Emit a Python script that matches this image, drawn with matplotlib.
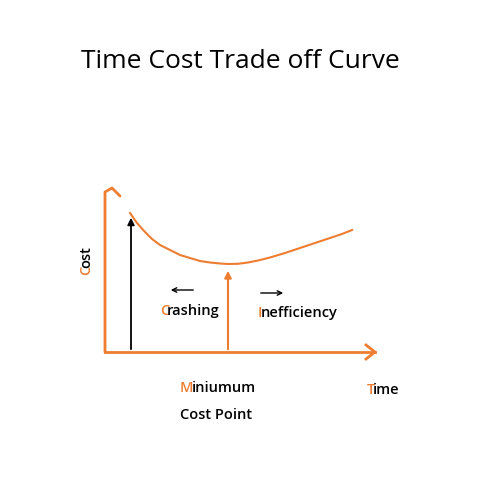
import matplotlib
matplotlib.use("Agg")
import matplotlib.pyplot as plt
from matplotlib.patches import FancyArrowPatch

ORANGE = "#ED7D31"
title = "Time Cost Trade off Curve"
curve_x = [130, 137, 145, 152, 160, 170, 180, 190, 200, 210, 220, 228, 238, 248, 258, 270, 285, 300, 315, 330, 342, 352]
curve_y = [213, 223, 232, 239, 245, 250, 255, 258, 261, 262.5, 263.5, 264, 263.8, 262.5, 260.5, 257.5, 253, 248, 243, 238, 234, 230]
labels = [("C", "rashing", 160, 311), ("I", "nefficiency", 258, 313),
          ("M", "iniumum", 180, 388), ("T", "ime", 367, 390)]

fig = plt.figure(figsize=(4.8, 4.8), dpi=100)
ax = fig.add_axes([0, 0, 1, 1])
ax.set_xlim(0, 480); ax.set_ylim(480, 0); ax.axis("off")
FAM = ["Open Sans", "DejaVu Sans"]

ax.text(240, 62, title, ha="center", va="center", fontsize=19, family=FAM)

ax.plot([105, 105, 112, 120], [352, 192, 188, 196], color=ORANGE, lw=2, solid_capstyle="round")
ax.plot([105, 375], [352, 352], color=ORANGE, lw=2)
ax.plot([366, 375, 366], [345, 352, 359], color=ORANGE, lw=2)

ax.plot(curve_x, curve_y, color=ORANGE, lw=1.5)

ax.add_patch(FancyArrowPatch((131, 352), (131, 215), arrowstyle="-|>", mutation_scale=10, color="black", lw=1.3))
ax.add_patch(FancyArrowPatch((228, 352), (228, 268), arrowstyle="-|>", mutation_scale=10, color=ORANGE, lw=1.5))
ax.add_patch(FancyArrowPatch((196, 290), (168, 290), arrowstyle="->", mutation_scale=8, color="black", lw=1))
ax.add_patch(FancyArrowPatch((258, 293), (286, 293), arrowstyle="->", mutation_scale=8, color="black", lw=1))

kw = dict(fontsize=10.5, fontweight="semibold", family=FAM)
for first, rest, x, y in labels:
    t = ax.text(x, y, first, color=ORANGE, va="center", **kw)
    ax.annotate(rest, xy=(1, 0.5), xycoords=t, xytext=(-1.5, 0), textcoords="offset points",
                va="center", color="black", **kw)
ax.text(180, 415, "Cost Point", va="center", **kw)

t = ax.text(86, 275, "C", color=ORANGE, rotation=90, ha="center", va="bottom", **kw)
ax.annotate("ost", xy=(0.5, 1), xycoords=t, xytext=(0, -1.5), textcoords="offset points",
            rotation=90, ha="center", va="bottom", color="black", **kw)

fig.savefig("out.png", dpi=100)
